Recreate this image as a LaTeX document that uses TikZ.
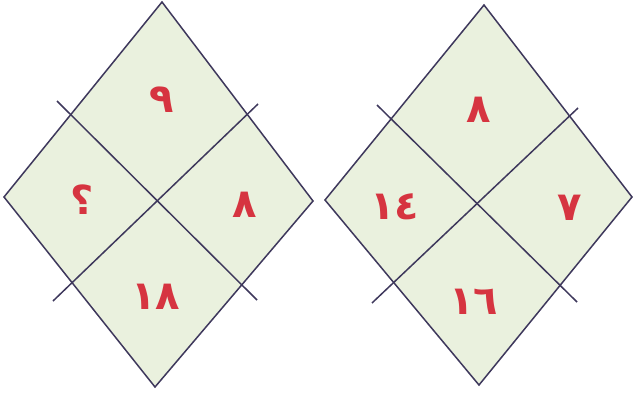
\documentclass[tikz,border=0pt]{standalone}
\usepackage{fontspec}
\usepackage{tikz}
\newfontfamily\arabicfont[Script=Arabic]{DejaVu Sans}
\definecolor{edge}{RGB}{62,56,92}
\definecolor{paper}{RGB}{234,241,222}
\definecolor{numred}{RGB}{214,52,64}
\newcommand{\numfont}{\arabicfont\bfseries\fontsize{40}{44}\selectfont}

\begin{document}
\begin{tikzpicture}[
  x=1pt, y=-1pt,
  every node/.style={font=\numfont, text=numred, inner sep=0pt},
  rhomb/.style={draw=edge, line width=1.5pt, fill=paper, line join=miter},
  cut/.style={draw=edge, line width=1.5pt}
]
\useasboundingbox[fill=white] (0,0) rectangle (634,412);

% left figure
\coordinate (ltop) at (162,2);
\coordinate (lright) at (313,201);
\coordinate (lbot) at (155,387);
\coordinate (lleft) at (4,197);
\coordinate (la) at (57,101);
\coordinate (lb) at (257,300);
\coordinate (lc) at (53,301);
\coordinate (ld) at (258,104);
\path[rhomb] (ltop) -- (lright) -- (lbot) -- (lleft) -- cycle;
\draw[cut] (la) -- (lb);
\draw[cut] (lc) -- (ld);

\node (lup) at (162,100) {٩};
\node (lwest) at (82,200) {؟};
\node (least) at (245,205) {٨};
\node (ldown) at (156,297) {١٨};

% right figure
\coordinate (rtop) at (484,5);
\coordinate (rright) at (632,197);
\coordinate (rbot) at (479,385);
\coordinate (rleft) at (325,200);
\coordinate (ra) at (377,105);
\coordinate (rb) at (577,302);
\coordinate (rc) at (372,303);
\coordinate (rd) at (578,108);
\path[rhomb] (rtop) -- (rright) -- (rbot) -- (rleft) -- cycle;
\draw[cut] (ra) -- (rb);
\draw[cut] (rc) -- (rd);

\node (rup) at (479,110) {٨};
\node (rwest) at (395,207) {١٤};
\node (reast) at (570,208) {٧};
\node (rdown) at (474,302) {١٦};
\end{tikzpicture}
\end{document}
